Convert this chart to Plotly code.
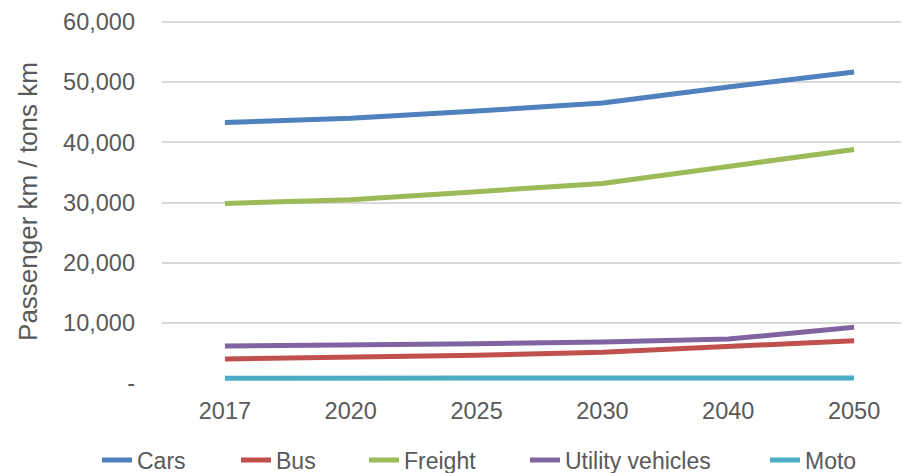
import plotly.graph_objects as go

years = ["2017", "2020", "2025", "2030", "2040", "2050"]
cars = [43300, 44000, 45200, 46550, 49200, 51700]
bus = [4000, 4200, 4600, 5100, 5980, 7030]
freight = [29850, 30450, 31800, 33170, 36000, 38800]
utility = [6150, 6260, 6530, 6800, 7300, 9250]
moto = [780, 790, 800, 810, 830, 850]

series_names = ["Cars", "Bus", "Freight", "Utility vehicles", "Moto"]
series_values = [cars, bus, freight, utility, moto]
colors = ["#4F81BD", "#C0504D", "#9BBB59", "#8064A2", "#4BACC6"]

y_tickvals = [0, 10000, 20000, 30000, 40000, 50000, 60000]
y_ticktext = ["-", "10,000", "20,000", "30,000", "40,000", "50,000", "60,000"]

# legend item left positions (figure pixels) for each separate legend
legend_px = [89, 228, 356, 517, 757]
W, H = 909, 473
ML, MR, MT, MB = 154, 0, 12, 98
plot_w = W - ML - MR
plot_h = H - MT - MB
y_top = 60000 * plot_h / (plot_h - 2)

fig = go.Figure()
legend_ids = ["legend", "legend2", "legend3", "legend4", "legend5"]
for name, vals, col, lid in zip(series_names, series_values, colors, legend_ids):
    fig.add_trace(go.Scatter(x=years, y=vals, name=name, mode="lines",
                             line=dict(color=col, width=5), legend=lid))

font_family = "Liberation Sans, Arial, sans-serif"
layout_legends = {}
for lid, px in zip(legend_ids, legend_px):
    layout_legends[lid] = dict(
        orientation="h", x=(px - ML) / plot_w, xanchor="left",
        yref="container", y=0.09, yanchor="top",
        font=dict(size=23, color="#595959"), bgcolor="rgba(0,0,0,0)")

fig.update_layout(
    width=W, height=H,
    margin=dict(l=ML, r=MR, t=MT, b=MB),
    paper_bgcolor="white", plot_bgcolor="white",
    font=dict(family=font_family, size=23, color="#595959"),
    showlegend=True,
    **layout_legends,
)
fig.update_xaxes(type="category", range=[-0.5, 5.5], showgrid=False,
                 showline=False, zeroline=False, ticks="", automargin=False,
                 ticklabelstandoff=11,
                 tickfont=dict(size=23.5, color="#595959"))
fig.update_yaxes(range=[0, y_top], tickvals=y_tickvals, ticktext=y_ticktext,
                 showgrid=True, gridcolor="#D9D9D9", gridwidth=1.5,
                 zeroline=False, showline=False, ticks="", automargin=False,
                 ticklabelstandoff=26,
                 tickfont=dict(size=23.5, color="#595959"),
                 title=dict(text="Passenger km / tons km", font=dict(size=26, color="#595959"),
                            standoff=18))

fig.write_html("out.html")
